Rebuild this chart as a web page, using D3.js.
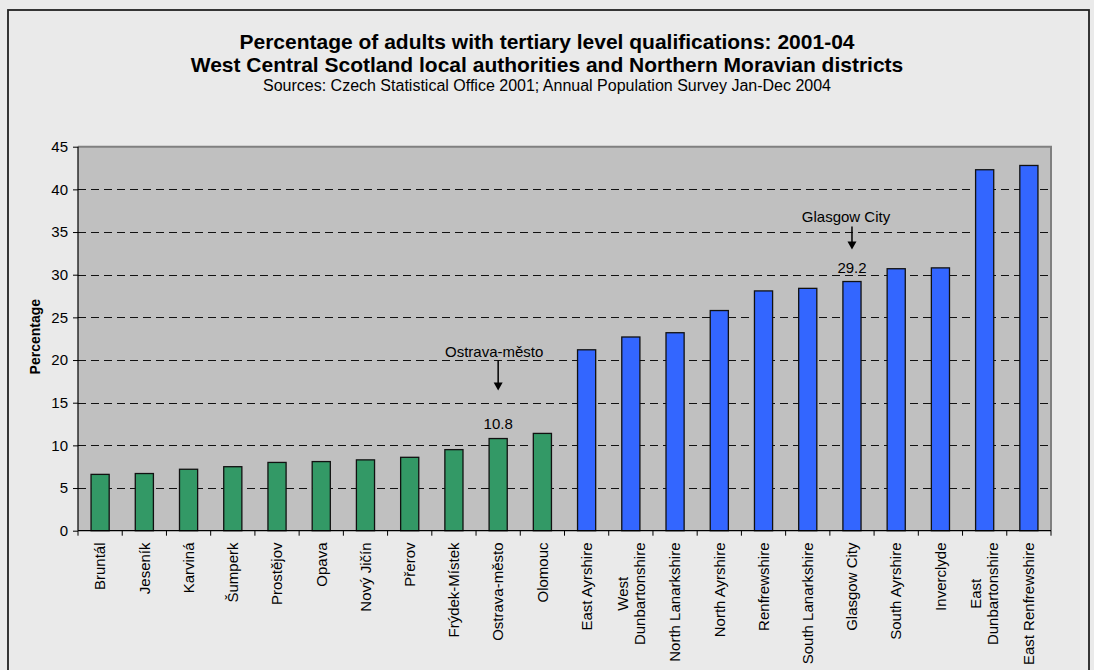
<!DOCTYPE html>
<html>
<head>
<meta charset="utf-8">
<script src="https://cdn.jsdelivr.net/npm/d3@7"></script>
<style>
  html, body { margin: 0; padding: 0; background: #EAEAEA; }
  svg { display: block; font-family: "Liberation Sans", Arial, sans-serif; }
</style>
</head>
<body>
<svg id="chart" width="1094" height="670"></svg>
<script>
// ---- data ----
const czechDistricts = ["Bruntál", "Jeseník", "Karviná", "Šumperk", "Prostějov", "Opava",
  "Nový Jičín", "Přerov", "Frýdek-Místek", "Ostrava-město", "Olomouc"];
const czechValues = [6.6, 6.7, 7.2, 7.5, 8.0, 8.1, 8.3, 8.6, 9.5, 10.8, 11.4];
const scottishAuthorities = ["East Ayrshire", "West\nDunbartonshire", "North Lanarkshire",
  "North Ayrshire", "Renfrewshire", "South Lanarkshire", "Glasgow City", "South Ayrshire",
  "Inverclyde", "East\nDunbartonshire", "East Renfrewshire"];
const scottishValues = [21.2, 22.7, 23.2, 25.8, 28.1, 28.4, 29.2, 30.7, 30.8, 42.3, 42.8];
const yTicks = [0, 5, 10, 15, 20, 25, 30, 35, 40, 45];
const annotatedNames = ["Ostrava-město", "Glasgow City"];
const annotatedValues = [10.8, 29.2];

const titleLines = ["Percentage of adults with tertiary level qualifications: 2001-04",
  "West Central Scotland local authorities and Northern Moravian districts"];
const subtitle = "Sources: Czech Statistical Office 2001; Annual Population Survey Jan-Dec 2004";
const yLabel = "Percentage";

// ---- build table ----
const rows = czechDistricts.map((c, i) => ({ cat: c, value: czechValues[i], group: "cz" }))
  .concat(scottishAuthorities.map((c, i) => ({ cat: c, value: scottishValues[i], group: "sc" })));

const colors = { cz: "#339966", sc: "#3366FF" };

// ---- layout ----
const plot = { left: 78, right: 1051, top: 146.7, bottom: 530.7 };
const svg = d3.select("#chart");
const FS = 15;

// outer box
svg.append("rect").attr("x", 8).attr("y", 10).attr("width", 1081).attr("height", 700)
  .attr("fill", "#EAEAEA").attr("stroke", "#222").attr("stroke-width", 1.8);

// titles
svg.append("text").attr("x", 547).attr("y", 49).attr("text-anchor", "middle")
  .attr("font-size", 21).attr("font-weight", "bold").text(titleLines[0]);
svg.append("text").attr("x", 547).attr("y", 72).attr("text-anchor", "middle")
  .attr("font-size", 21).attr("font-weight", "bold").text(titleLines[1]);
svg.append("text").attr("x", 547).attr("y", 90.5).attr("text-anchor", "middle")
  .attr("font-size", 16).text(subtitle);

const x = d3.scaleBand().domain(rows.map(d => d.cat)).range([plot.left, plot.right])
  .paddingInner(0.59).paddingOuter(0.295);
const xb = d3.scaleBand().domain(rows.map(d => d.cat)).range([plot.left, plot.right]).padding(0);
const y = d3.scaleLinear().domain([0, 45]).range([plot.bottom, plot.top]);

// plot background
svg.append("rect").attr("x", plot.left).attr("y", plot.top)
  .attr("width", plot.right - plot.left).attr("height", plot.bottom - plot.top)
  .attr("fill", "#C0C0C0");

// gridlines
svg.append("g").selectAll("line").data(yTicks.filter(t => t > 0 && t < 45)).join("line")
  .attr("x1", plot.left).attr("x2", plot.right)
  .attr("y1", d => Math.round(y(d)) + 0.5).attr("y2", d => Math.round(y(d)) + 0.5)
  .attr("stroke", "#111").attr("stroke-width", 1.2).attr("stroke-dasharray", "8,5");

// top/right border of plot
svg.append("path")
  .attr("d", `M${plot.left},${plot.top}H${plot.right}V${plot.bottom}`)
  .attr("fill", "none").attr("stroke", "#808080").attr("stroke-width", 2);

// bars
svg.append("g").selectAll("rect").data(rows).join("rect")
  .attr("x", d => x(d.cat)).attr("width", x.bandwidth())
  .attr("y", d => y(d.value)).attr("height", d => y(0) - y(d.value))
  .attr("fill", d => colors[d.group]).attr("stroke", "#111").attr("stroke-width", 1.3);

// y axis
const yAxis = d3.axisLeft(y).tickValues(yTicks).tickSize(5).tickPadding(5).tickFormat(d3.format("d"));
const gy = svg.append("g").attr("transform", `translate(${plot.left},0)`).call(yAxis);
gy.select(".domain").attr("stroke", "#000").attr("stroke-width", 1.2).attr("d", `M0,${plot.top}V${plot.bottom}`);
gy.selectAll(".tick line").attr("stroke", "#000");
gy.selectAll(".tick text").attr("font-size", FS).attr("fill", "#000")
  .attr("font-family", "Liberation Sans, Arial, sans-serif");

// x axis: ticks at band boundaries
const boundaries = rows.map(d => xb(d.cat)).concat([plot.right]);
svg.append("line").attr("x1", plot.left).attr("x2", plot.right)
  .attr("y1", plot.bottom).attr("y2", plot.bottom).attr("stroke", "#000").attr("stroke-width", 1.2);
svg.append("g").selectAll("line").data(boundaries).join("line")
  .attr("x1", d => d).attr("x2", d => d).attr("y1", plot.bottom).attr("y2", plot.bottom + 5)
  .attr("stroke", "#000").attr("stroke-width", 1);

// x labels (rotated)
const labelTop = 542.5;
const lineH = 17;
const lg = svg.append("g").attr("font-size", FS);
rows.forEach(d => {
  const lines = d.cat.split("\n");
  const cx = xb(d.cat) + xb.bandwidth() / 2;
  const g = lg.append("g");
  const texts = lines.map((ln, i) => {
    const off = (i - (lines.length - 1) / 2) * lineH;
    return g.append("text").attr("transform", `translate(${cx + off},${labelTop}) rotate(-90)`)
      .attr("dy", "0.35em").attr("text-anchor", "end").text(ln);
  });
  if (lines.length > 1) {
    const lens = texts.map(t => t.node().getComputedTextLength());
    const maxL = Math.max(...lens);
    texts.forEach((t, i) => {
      const off = (i - (lines.length - 1) / 2) * lineH;
      const shift = (maxL - lens[i]) / 2;
      t.attr("transform", `translate(${cx + off},${labelTop + shift}) rotate(-90)`);
    });
  }
});

// y label
svg.append("text").attr("transform", `translate(40,${(plot.top + plot.bottom) / 2 - 2}) rotate(-90)`)
  .attr("text-anchor", "middle").attr("font-size", 14).attr("font-weight", "bold").text(yLabel);

// annotations
const annLayout = [
  { valueGap: 10, tipGap: 48, tailGap: 78, textGap: 82, textShift: -4 },
  { valueGap: 9, tipGap: 32, tailGap: 55, textGap: 60, textShift: -6 }
];
annotatedNames.forEach((name, i) => {
  const cx = xb(name) + xb.bandwidth() / 2;
  const top = y(annotatedValues[i]);
  const L = annLayout[i];
  svg.append("text").attr("x", cx).attr("y", top - L.valueGap).attr("text-anchor", "middle")
    .attr("font-size", FS).text(d3.format(".1f")(annotatedValues[i]));
  svg.append("line").attr("x1", cx).attr("x2", cx).attr("y1", top - L.tailGap).attr("y2", top - L.tipGap - 6)
    .attr("stroke", "#000").attr("stroke-width", 1.5);
  svg.append("path")
    .attr("d", `M${cx - 4.5},${top - L.tipGap - 8}L${cx + 4.5},${top - L.tipGap - 8}L${cx},${top - L.tipGap}Z`)
    .attr("fill", "#000");
  svg.append("text").attr("x", cx + L.textShift).attr("y", top - L.textGap).attr("text-anchor", "middle")
    .attr("font-size", FS).text(name);
});
</script>
</body>
</html>
